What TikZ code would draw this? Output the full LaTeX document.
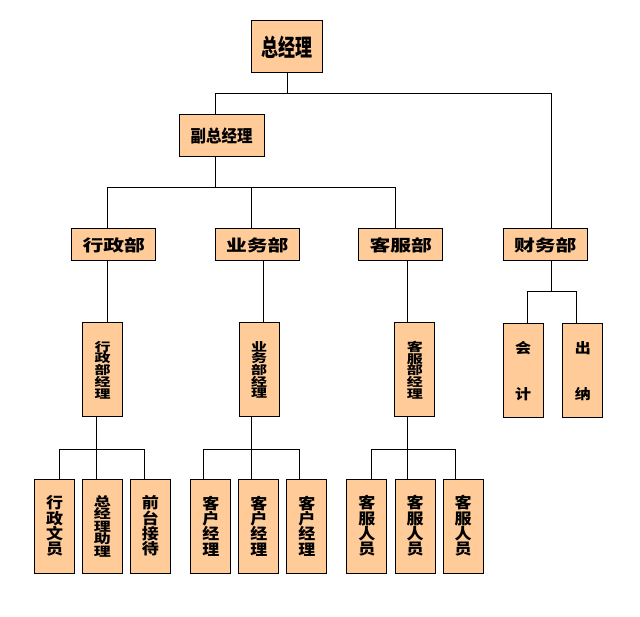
\documentclass[tikz,border=0pt]{standalone}
\usepackage{fontspec}
\usepackage{graphicx}
\newfontfamily\cjk{Noto Sans CJK SC}
\definecolor{boxfill}{RGB}{255,204,153}

% squeezed / stretched text like the scanned chart
\newcommand{\stretchtext}[3]{\scalebox{#1}[#2]{#3}}
% one character per row, fixed pitch (#2), rows split by \cr
\newcommand{\vtext}[3]{\scalebox{1}[#1]{\vbox{\baselineskip=#2\lineskiplimit=-100pt\lineskip=0pt
  \halign{\hfil##\hfil\cr#3\crcr}}}}

\tikzset{
  unit/.style={draw, fill=boxfill, line width=1pt, inner sep=0pt, font=\cjk\bfseries},
  headbox/.style={unit, minimum width=71pt, minimum height=52pt},
  deputybox/.style={unit, minimum width=85pt, minimum height=42pt},
  deptbox/.style={unit, minimum width=84pt, minimum height=32pt},
  tallbox/.style={unit, minimum width=40pt, minimum height=94pt},
  mgrtext/.style={font=\cjk\bfseries\fontsize{16}{16}\selectfont},
  stafftext/.style={font=\cjk\bfseries\fontsize{17}{17}\selectfont},
  link/.style={line width=1pt},
}

\begin{document}
\begin{tikzpicture}[x=1pt,y=-1pt]
\useasboundingbox (0,0) rectangle (640,617);

\node[headbox] (gm) at (286.5,47) {\stretchtext{1}{1.4}{\fontsize{17}{17}\selectfont 总经理}};
\node[deputybox] (vgm) at (221.5,136) {\stretchtext{1}{1.1}{\fontsize{15.5}{16}\selectfont 副总经理}};

\node[deptbox] (adm) at (113.7,245) {\stretchtext{1.3}{1}{\fontsize{16}{16}\selectfont 行政部}};
\node[deptbox] (biz) at (257.3,245) {\stretchtext{1.3}{1}{\fontsize{16}{16}\selectfont 业务部}};
\node[deptbox] (srv) at (400.8,245) {\stretchtext{1.3}{1}{\fontsize{16}{16}\selectfont 客服部}};
\node[deptbox] (fin) at (545.3,245) {\stretchtext{1.3}{1}{\fontsize{16}{16}\selectfont 财务部}};

\node[tallbox, mgrtext] (admm) at (102.5,370) {\vtext{0.74}{15.8pt}{行\cr 政\cr 部\cr 经\cr 理}};
\node[tallbox, mgrtext] (bizm) at (259,370) {\vtext{0.74}{15.8pt}{业\cr 务\cr 部\cr 经\cr 理}};
\node[tallbox, mgrtext] (srvm) at (414.8,370) {\vtext{0.74}{15.8pt}{客\cr 服\cr 部\cr 经\cr 理}};
\node[tallbox, mgrtext] (acc) at (523,371) {\vtext{0.88}{53pt}{会\cr 计}};
\node[tallbox, mgrtext] (cash) at (582.8,371) {\vtext{0.88}{53pt}{出\cr 纳}};

\node[tallbox, stafftext] (s1) at (54.5,526) {\vtext{0.9}{17pt}{行\cr 政\cr 文\cr 员}};
\node[tallbox, stafftext] (s2) at (102.3,526) {\vtext{0.75}{16.7pt}{总\cr 经\cr 理\cr 助\cr 理}};
\node[tallbox, stafftext] (s3) at (150.3,526) {\vtext{0.9}{17pt}{前\cr 台\cr 接\cr 待}};
\node[tallbox, stafftext] (s4) at (210.8,526) {\vtext{0.9}{17pt}{客\cr 户\cr 经\cr 理}};
\node[tallbox, stafftext] (s5) at (258.8,526) {\vtext{0.9}{17pt}{客\cr 户\cr 经\cr 理}};
\node[tallbox, stafftext] (s6) at (306.8,526) {\vtext{0.9}{17pt}{客\cr 户\cr 经\cr 理}};
\node[tallbox, stafftext] (s7) at (366.8,526) {\vtext{0.9}{17pt}{客\cr 服\cr 人\cr 员}};
\node[tallbox, stafftext] (s8) at (415,526) {\vtext{0.9}{17pt}{客\cr 服\cr 人\cr 员}};
\node[tallbox, stafftext] (s9) at (463,526) {\vtext{0.9}{17pt}{客\cr 服\cr 人\cr 员}};

% junction points
\coordinate (t0) at (287,94);
\coordinate (t0l) at (215,94);
\coordinate (t0r) at (551.5,94);
\coordinate (t1l) at (107,188);
\coordinate (t1m) at (251,188);
\coordinate (t1r) at (395,188);
\coordinate (d1) at (263,300);
\coordinate (d2) at (407,300);
\coordinate (f0) at (551.5,292);
\coordinate (f1) at (527,292);
\coordinate (f2) at (576,292);
\coordinate (a0) at (96,449);
\coordinate (a1) at (59,449);
\coordinate (a2) at (144,449);
\coordinate (b0) at (251,449);
\coordinate (b1) at (203,449);
\coordinate (b2) at (299,449);
\coordinate (c0) at (407,449);
\coordinate (c1) at (371,449);
\coordinate (c2) at (455,449);

% top levels
\draw[link] (t0 |- gm.south) -- (t0);
\draw[link] (t0l |- vgm.north) |- (t0r) -- (t0r |- fin.north);
\draw[link] (t0l |- vgm.south) -- (t0l |- t1l);
\draw[link] (t1l |- adm.north) |- (t1r) -- (t1r |- srv.north);
\draw[link] (t1m) -- (t1m |- biz.north);

% departments to managers
\draw[link] (t1l |- adm.south) -- (t1l |- admm.north);
\draw[link] (d1 |- biz.south) -- (d1 |- bizm.north);
\draw[link] (d2 |- srv.south) -- (d2 |- srvm.north);
\draw[link] (f0 |- fin.south) -- (f0);
\draw[link] (f1 |- acc.north) |- (f2) -- (f2 |- cash.north);

% managers to staff
\draw[link] (a0 |- admm.south) -- (a0 |- s2.north);
\draw[link] (a1 |- s1.north) |- (a2) -- (a2 |- s3.north);
\draw[link] (b0 |- bizm.south) -- (b0 |- s5.north);
\draw[link] (b1 |- s4.north) |- (b2) -- (b2 |- s6.north);
\draw[link] (c0 |- srvm.south) -- (c0 |- s8.north);
\draw[link] (c1 |- s7.north) |- (c2) -- (c2 |- s9.north);
\end{tikzpicture}
\end{document}
